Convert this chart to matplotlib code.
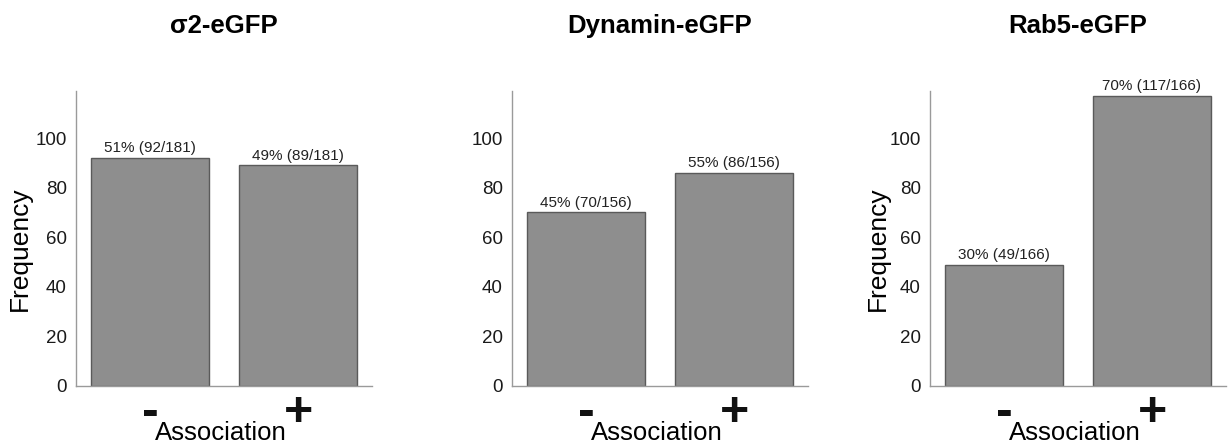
import matplotlib.pyplot as plt
import numpy as np

# Datos
titles = ["\u03c32-eGFP", "Dynamin-eGFP", "Rab5-eGFP"]
categories = ["-", "+"]
counts = [[92, 89], [70, 86], [49, 117]]
totals = [181, 156, 166]
percents = [[51, 49], [45, 55], [30, 70]]
yticks = [0, 20, 40, 60, 80, 100]

plt.rcParams['font.family'] = ['Liberation Sans', 'DejaVu Sans']

fig = plt.figure(figsize=(12.28, 4.46), dpi=100)
lefts = [76, 512, 930]
ylab_x = [-0.15, None, -0.135]

for i in range(3):
    ax = fig.add_axes([lefts[i] / 1228, 60 / 446, 296 / 1228, 295 / 446])
    x = np.arange(1, 3)
    ax.bar(x, counts[i], width=0.8, color='#8e8e8e', edgecolor='#5a5a5a', linewidth=1)
    for xi, c, p in zip(x, counts[i], percents[i]):
        ax.annotate(f"{p}% ({c}/{totals[i]})", (xi, c), xytext=(0, 2),
                    textcoords='offset points', ha='center', va='bottom',
                    fontsize=11, color='#222222')
    ax.set_xlim(0.5, 2.5)
    ax.set_ylim(0, 119)
    ax.set_yticks(yticks)
    ax.set_xticks(x)
    ax.set_xticklabels(categories, fontsize=36, fontweight='bold')
    ax.tick_params(axis='y', length=0, pad=6.5, labelsize=13.5, labelcolor='#1a1a1a')
    ax.tick_params(axis='x', length=0, pad=3, labelcolor='#111111')
    for s in ['top', 'right']:
        ax.spines[s].set_visible(False)
    for s in ['left', 'bottom']:
        ax.spines[s].set_color('#9a9a9a')
        ax.spines[s].set_linewidth(1)
    ax.set_title(titles[i], fontsize=18.5, fontweight='bold', pad=42)
    ax.set_xlabel("Association", fontsize=18.5)
    ax.xaxis.set_label_coords(0.49, -0.12)
    if ylab_x[i] is not None:
        ax.set_ylabel("Frequency", fontsize=19)
        ax.yaxis.set_label_coords(ylab_x[i], 0.465)

plt.savefig("out.png", dpi=100)
